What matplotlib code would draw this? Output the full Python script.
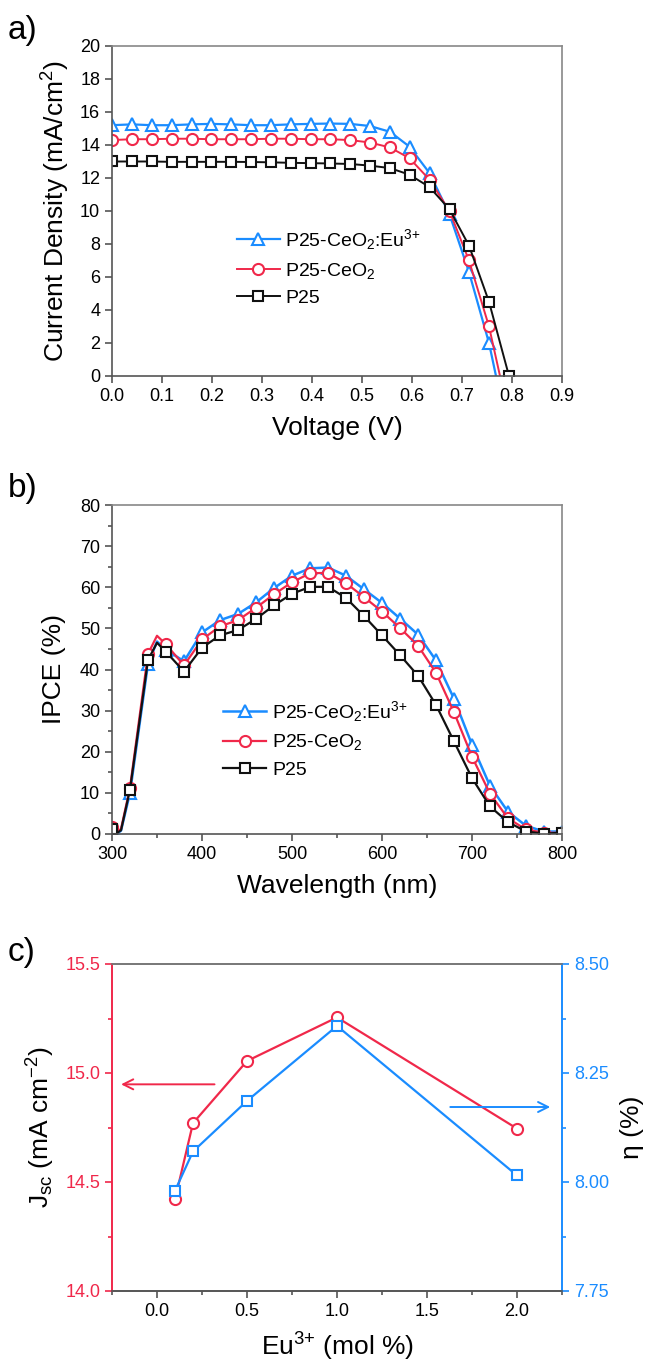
import numpy as np
import matplotlib
matplotlib.use("Agg")
import matplotlib.pyplot as plt
from matplotlib.ticker import MultipleLocator

plt.rcParams['font.family'] = ['Liberation Sans', 'DejaVu Sans']
plt.rcParams['mathtext.fontset'] = 'custom'
plt.rcParams['mathtext.rm'] = 'Liberation Sans'
plt.rcParams['mathtext.it'] = 'Liberation Sans'
plt.rcParams['mathtext.default'] = 'regular'

BLUE = '#1a8cff'
RED = '#f0284a'
BLACK = '#111111'
SPINE = '#555555'

# ---- panel a: J-V curves ----
voltage = [0.000, 0.040, 0.079, 0.119, 0.159, 0.198, 0.238, 0.278, 0.317, 0.357,
           0.397, 0.436, 0.476, 0.516, 0.556, 0.595, 0.635, 0.675, 0.714, 0.754, 0.794]
jv_eu = [15.2, 15.25, 15.2, 15.2, 15.25, 15.28, 15.25, 15.2, 15.2, 15.25,
         15.28, 15.3, 15.28, 15.15, 14.8, 13.9, 12.3, 9.8, 6.3, 2.0]
jv_ceo2 = [14.3, 14.35, 14.35, 14.38, 14.38, 14.35, 14.35, 14.35, 14.38, 14.38,
           14.35, 14.35, 14.3, 14.15, 13.85, 13.2, 11.9, 10.0, 7.0, 3.0]
jv_p25 = [13.0, 13.0, 13.0, 12.98, 12.98, 12.98, 12.98, 12.97, 12.95, 12.92,
          12.9, 12.88, 12.85, 12.75, 12.6, 12.2, 11.45, 10.1, 7.9, 4.5, 0.0]
voc_eu = 0.768
voc_ceo2 = 0.776

# ---- panel b: IPCE ----
wavelength = [300, 305, 310, 320, 340, 350, 360, 380, 400, 420, 440, 460, 480, 500,
              520, 540, 560, 580, 600, 620, 640, 660, 680, 700, 720, 740, 760, 780, 800]
ipce_eu = [1.5, 0.0, 0.8, 10.0, 41.4, 46.8, 44.8, 42.0, 49.0, 52.0, 53.5, 56.3, 59.8, 62.8,
           64.6, 64.8, 62.8, 59.5, 56.2, 52.4, 48.5, 42.2, 32.9, 21.7, 11.7, 5.4, 2.0, 0.6, 0.6]
ipce_ceo2 = [1.8, 0.6, 1.2, 11.3, 43.8, 48.2, 46.1, 41.0, 47.3, 50.5, 52.0, 55.0, 58.3, 61.2,
             63.4, 63.5, 61.0, 57.6, 54.1, 50.1, 45.8, 39.2, 29.6, 18.8, 9.8, 3.8, 1.1, 0.3, 0.3]
ipce_p25 = [1.2, 0.2, 0.9, 10.8, 42.3, 46.5, 44.3, 39.5, 45.3, 48.3, 49.6, 52.3, 55.6, 58.4,
            60.1, 60.1, 57.4, 53.0, 48.3, 43.5, 38.5, 31.4, 22.5, 13.6, 6.7, 2.9, 0.6, 0.1, 0.3]

# ---- panel c: Jsc and efficiency vs Eu content ----
eu_mol = [0.1, 0.2, 0.5, 1.0, 2.0]
jsc = [14.42, 14.77, 15.055, 15.255, 14.745]
eta = [7.98, 8.07, 8.186, 8.358, 8.015]

labels = ['P25-CeO$_2$:Eu$^{3{+}}$', 'P25-CeO$_2$', 'P25']

fig = plt.figure(figsize=(6.51, 13.71), dpi=100)
W, H = 651, 1371


def box(x0, y0, x1, y1):
    return [x0 / W, 1 - y1 / H, (x1 - x0) / W, (y1 - y0) / H]


def style(ax):
    for s in ['top', 'right']:
        ax.spines[s].set_color('#888888')
    for s in ['left', 'bottom']:
        ax.spines[s].set_color(SPINE)
    for s in ax.spines.values():
        s.set_linewidth(1.2)
    ax.tick_params(which='both', direction='out', top=False, right=False,
                   labelsize=13, color=SPINE, width=1.2)
    ax.tick_params(which='major', length=5)
    ax.tick_params(which='minor', length=3)


mk = dict(markerfacecolor='white', markeredgewidth=1.5)

# panel a
ax1 = fig.add_axes(box(112, 46, 562, 376))
ax1.plot(voltage[:len(jv_eu)] + [voc_eu], jv_eu + [0.0], color=BLUE, lw=1.6,
         marker='^', ms=9, markevery=list(range(len(jv_eu))), label=labels[0], **mk)
ax1.plot(voltage[:len(jv_ceo2)] + [voc_ceo2], jv_ceo2 + [0.0], color=RED, lw=1.4,
         marker='o', ms=8, markevery=list(range(len(jv_ceo2))), label=labels[1], **mk)
ax1.plot(voltage, jv_p25, color=BLACK, lw=1.4, marker='s', ms=7, label=labels[2], **mk)
ax1.set_xlim(0, 0.9)
ax1.set_ylim(0, 20)
ax1.xaxis.set_major_locator(MultipleLocator(0.1))
ax1.yaxis.set_major_locator(MultipleLocator(2))
ax1.xaxis.set_major_formatter(plt.FormatStrFormatter('%.1f'))
style(ax1)
ax1.set_xlabel('Voltage (V)', fontsize=19, labelpad=8)
ax1.set_ylabel('Current Density (mA/cm$^2$)', fontsize=19, labelpad=6)
ax1.legend(loc='upper left', bbox_to_anchor=(0.26, 0.475), frameon=False, fontsize=14,
           handlelength=2.2, handletextpad=0.3, labelspacing=0.45, borderaxespad=0)
fig.text(8 / W, 1 - 30 / H, 'a)', fontsize=24, va='center', ha='left')

# panel b
ax2 = fig.add_axes(box(112, 505, 562, 834))
marked = [i for i, w in enumerate(wavelength) if w % 20 == 0]
ax2.plot(wavelength, ipce_eu, color=BLUE, lw=1.8, marker='^', ms=9, markevery=marked,
         label=labels[0], **mk)
ax2.plot(wavelength, ipce_ceo2, color=RED, lw=1.6, marker='o', ms=8, markevery=marked,
         label=labels[1], **mk)
ax2.plot(wavelength, ipce_p25, color=BLACK, lw=1.6, marker='s', ms=7, markevery=marked,
         label=labels[2], **mk)
ax2.set_xlim(300, 800)
ax2.set_ylim(0, 80)
ax2.xaxis.set_major_locator(MultipleLocator(100))
ax2.xaxis.set_minor_locator(MultipleLocator(50))
ax2.yaxis.set_major_locator(MultipleLocator(10))
ax2.yaxis.set_minor_locator(MultipleLocator(5))
style(ax2)
ax2.set_xlabel('Wavelength (nm)', fontsize=19, labelpad=8)
ax2.set_ylabel('IPCE (%)', fontsize=19, labelpad=10)
ax2.legend(loc='upper left', bbox_to_anchor=(0.23, 0.435), frameon=False, fontsize=14,
           handlelength=2.2, handletextpad=0.3, labelspacing=0.45, borderaxespad=0)
fig.text(8 / W, 1 - 488 / H, 'b)', fontsize=24, va='center', ha='left')

# panel c
ax3 = fig.add_axes(box(112, 964, 562, 1291))
ax4 = ax3.twinx()
ax3.plot(eu_mol, jsc, color=RED, lw=1.6, marker='o', ms=8, **mk)
ax4.plot(eu_mol, eta, color=BLUE, lw=1.6, marker='s', ms=7, **mk)
ax3.set_xlim(-0.25, 2.25)
ax3.set_ylim(14.0, 15.5)
ax4.set_ylim(7.75, 8.50)
ax3.xaxis.set_major_locator(MultipleLocator(0.5))
ax3.xaxis.set_minor_locator(MultipleLocator(0.25))
ax3.yaxis.set_major_locator(MultipleLocator(0.5))
ax3.yaxis.set_minor_locator(MultipleLocator(0.25))
ax4.yaxis.set_major_locator(MultipleLocator(0.25))
ax4.yaxis.set_minor_locator(MultipleLocator(0.125))
ax3.xaxis.set_major_formatter(plt.FormatStrFormatter('%.1f'))
ax3.yaxis.set_major_formatter(plt.FormatStrFormatter('%.1f'))
ax4.yaxis.set_major_formatter(plt.FormatStrFormatter('%.2f'))
for a in (ax3, ax4):
    for s in a.spines.values():
        s.set_linewidth(1.2)
    a.spines['top'].set_color('#777777')
    a.spines['bottom'].set_color(SPINE)
    a.spines['left'].set_color(RED)
    a.spines['right'].set_color(BLUE)
ax3.tick_params(axis='x', which='both', direction='out', labelsize=13, color=SPINE, width=1.2)
ax3.tick_params(axis='y', which='both', direction='out', labelsize=13, color=RED,
                labelcolor=RED, width=1.2)
ax4.tick_params(axis='y', which='both', direction='out', labelsize=13, color=BLUE,
                labelcolor=BLUE, width=1.2)
for a in (ax3, ax4):
    a.tick_params(which='major', length=5)
    a.tick_params(which='minor', length=3)
ax3.set_xlabel('Eu$^{3{+}}$ (mol %)', fontsize=19, labelpad=8)
ax3.set_ylabel('J$_{sc}$ (mA cm$^{-2}$)', fontsize=19, labelpad=6)
ax4.set_ylabel('η (%)', fontsize=19, rotation=90, labelpad=8)
ax3.annotate('', xy=(-0.215, 14.948), xytext=(0.335, 14.948),
             arrowprops=dict(arrowstyle='->', color=RED, lw=1.4, mutation_scale=18))
ax4.annotate('', xy=(2.20, 8.172), xytext=(1.614, 8.172),
             arrowprops=dict(arrowstyle='->', color=BLUE, lw=1.4, mutation_scale=18))
fig.text(8 / W, 1 - 952 / H, 'c)', fontsize=24, va='center', ha='left')

fig.savefig('out.png', dpi=100)
